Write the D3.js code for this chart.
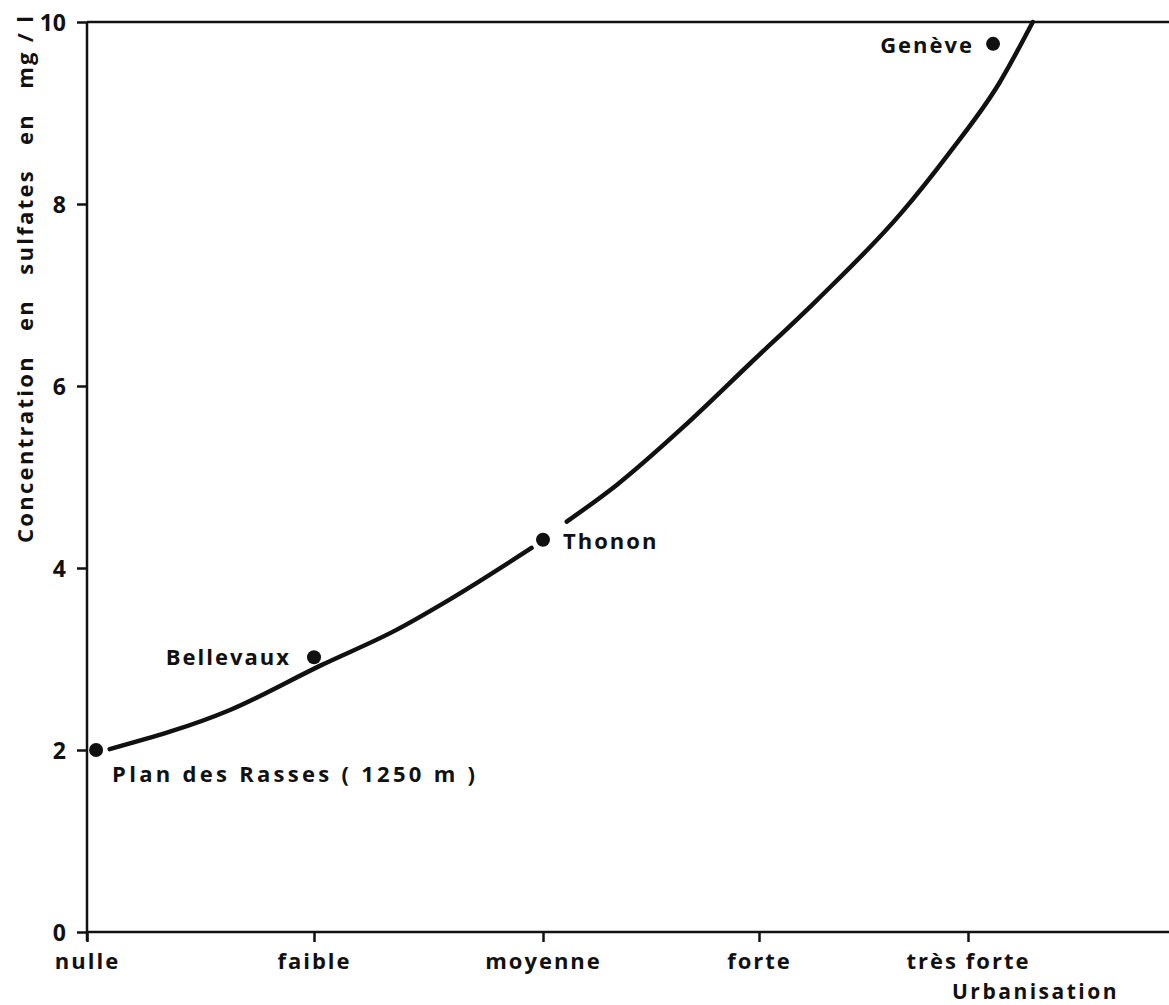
<!DOCTYPE html>
<html>
<head>
<meta charset="utf-8">
<script src="https://cdn.jsdelivr.net/npm/d3@7"></script>
<style>
  body { margin: 0; background: #fff; }
  text { font-family: "Open Sans", sans-serif; font-weight: 700; fill: #111; }
</style>
</head>
<body>
<svg class="chart"></svg>
<script>
const width = 1169, height = 1005;

// urbanisation levels along the bottom axis
const levels = ["nulle", "faible", "moyenne", "forte", "très forte"];
const yTicks = [0, 2, 4, 6, 8, 10];

// measured stations (x = urbanisation index, y = sulfates mg/l)
const stations = ["Plan des Rasses ( 1250 m )", "Bellevaux", "Thonon", "Genève"];
const stationX = [0.04, 1.0, 2.0, 4.12];
const stationY = [2.0, 3.02, 4.31, 9.76];

// hand drawn trend curve, null = break in the line near Thonon
const curveX = [0.10, 0.63, 1.03, 1.36, 1.59, 1.95, null, 2.11, 2.34, 2.65, 2.96, 3.28, 3.68, 3.91, 4.15, 4.31];
const curveY = [2.01, 2.44, 2.93, 3.32, 3.65, 4.22, null, 4.51, 4.91, 5.55, 6.25, 6.95, 7.90, 8.56, 9.33, 10.0];

const svg = d3.select(".chart").attr("width", width).attr("height", height);

// the original ticks are not evenly spaced, so piecewise scale
const x = d3.scaleLinear().domain([0, 1, 2, 3, 4]).range([87, 314, 543, 759, 968]);
const y = d3.scaleLinear().domain([0, 10]).range([932, 22]);

// frame lines
svg.append("line")
    .attr("x1", x(0)).attr("x2", x(0))
    .attr("y1", y(10)).attr("y2", y(0) + 9)
    .attr("stroke", "#111").attr("stroke-width", 2.5);
svg.append("line")
    .attr("x1", x(0)).attr("x2", width)
    .attr("y1", y(0)).attr("y2", y(0))
    .attr("stroke", "#111").attr("stroke-width", 2.5);
svg.append("line")
    .attr("x1", x(0)).attr("x2", width)
    .attr("y1", y(10)).attr("y2", y(10))
    .attr("stroke", "#111").attr("stroke-width", 2.5);

// y axis
const yAxis = svg.append("g")
    .attr("transform", `translate(${x(0)},0)`)
    .call(d3.axisLeft(y).tickValues(yTicks).tickSize(10).tickPadding(11));
yAxis.select(".domain").remove();
yAxis.selectAll(".tick line").attr("stroke", "#111").attr("stroke-width", 2.5);
yAxis.selectAll(".tick text")
    .style("font-size", "23px")
    .attr("dy", "0.36em")
    .attr("fill", "#111");

// x axis
const xAxis = svg.append("g")
    .attr("transform", `translate(0,${y(0)})`)
    .call(d3.axisBottom(x).tickValues([0, 1, 2, 3, 4]).tickFormat(i => levels[i]).tickSize(10).tickPadding(11));
xAxis.select(".domain").remove();
xAxis.selectAll(".tick line").attr("stroke", "#111").attr("stroke-width", 2.5);
xAxis.selectAll(".tick text")
    .style("font-size", "22px")
    .style("letter-spacing", "2px")
    .attr("fill", "#111");

// axis titles
svg.append("text")
    .attr("x", 952).attr("y", 999)
    .style("font-size", "21px")
    .style("letter-spacing", "2.5px")
    .text("Urbanisation");

svg.append("text")
    .attr("transform", "translate(33,543) rotate(-90)")
    .attr("x", 0).attr("y", 0)
    .style("font-size", "22px")
    .style("white-space", "pre")
    .attr("textLength", 527)
    .attr("lengthAdjust", "spacing")
    .text("Concentration   en   sulfates   en   mg / l");

// trend curve
const curvePts = curveX.map((d, i) => ({ x: d, y: curveY[i] }));
const line = d3.line()
    .defined(d => d.x != null)
    .x(d => x(d.x))
    .y(d => y(d.y))
    .curve(d3.curveMonotoneX);

svg.append("path")
    .datum(curvePts)
    .attr("d", line)
    .attr("fill", "none")
    .attr("stroke", "#111")
    .attr("stroke-width", 4.5)
    .attr("stroke-linecap", "round");

// station dots
svg.selectAll(".station")
    .data(stations)
    .join("circle")
    .attr("class", "station")
    .attr("cx", (d, i) => x(stationX[i]))
    .attr("cy", (d, i) => y(stationY[i]))
    .attr("r", 7)
    .attr("fill", "#111");

// station labels
const labelPos = [
    { dx: 16, dy: 32, anchor: "start", len: 365 },
    { dx: -23, dy: 8, anchor: "end" },
    { dx: 20, dy: 9, anchor: "start" },
    { dx: -19, dy: 9, anchor: "end" }
];
svg.selectAll(".station-label")
    .data(stations)
    .join("text")
    .attr("class", "station-label")
    .attr("x", (d, i) => x(stationX[i]) + labelPos[i].dx)
    .attr("y", (d, i) => y(stationY[i]) + labelPos[i].dy)
    .attr("text-anchor", (d, i) => labelPos[i].anchor)
    .style("font-size", "22px")
    .style("letter-spacing", "2px")
    .style("white-space", "pre")
    .each(function(d, i) {
        if (labelPos[i].len) {
            d3.select(this).attr("textLength", labelPos[i].len).attr("lengthAdjust", "spacing");
        }
    })
    .text(d => d);
</script>
</body>
</html>
